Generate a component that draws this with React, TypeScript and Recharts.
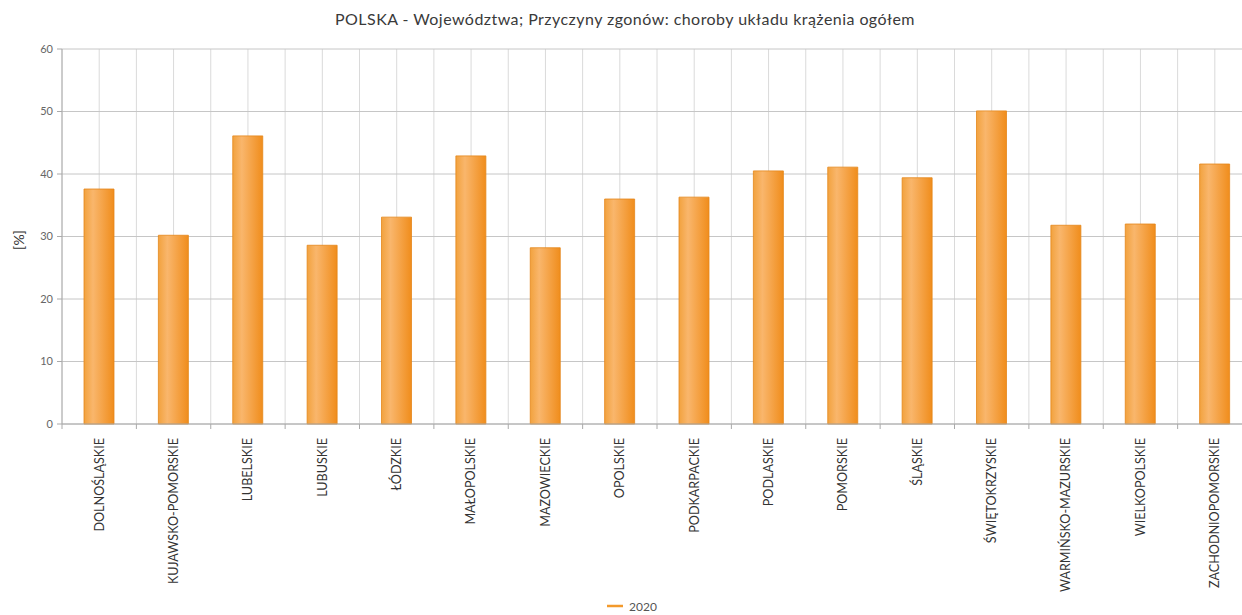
import React from "react";
import { BarChart, Bar, XAxis, YAxis, CartesianGrid, Legend } from "recharts";

const TITLE = "POLSKA - Województwa; Przyczyny zgonów: choroby układu krążenia ogółem";
const SERIES_NAME = "2020";
const Y_LABEL = "[%]";

const regions = [
  "DOLNOŚLĄSKIE",
  "KUJAWSKO-POMORSKIE",
  "LUBELSKIE",
  "LUBUSKIE",
  "ŁÓDZKIE",
  "MAŁOPOLSKIE",
  "MAZOWIECKIE",
  "OPOLSKIE",
  "PODKARPACKIE",
  "PODLASKIE",
  "POMORSKIE",
  "ŚLĄSKIE",
  "ŚWIĘTOKRZYSKIE",
  "WARMIŃSKO-MAZURSKIE",
  "WIELKOPOLSKIE",
  "ZACHODNIOPOMORSKIE",
];

const values2020 = [37.6, 30.2, 46.1, 28.6, 33.1, 42.9, 28.2, 36.0, 36.3, 40.5, 41.1, 39.4, 50.1, 31.8, 32.0, 41.6];

const yTicks = [0, 10, 20, 30, 40, 50, 60];

const data = regions.map((name, i) => ({ name, v2020: values2020[i] }));

const CHART_W = 1260;
const CHART_H = 615;
const MARGIN = { top: 49, right: 8, bottom: 0, left: 12 };
const Y_AXIS_W = 50;
const FONT = "Lato, 'Open Sans', sans-serif";

const XTick = (props: any) => {
  const { x, y, payload } = props;
  const plotW = CHART_W - MARGIN.left - MARGIN.right - Y_AXIS_W;
  const band = plotW / regions.length;
  const bx = x - band / 2;
  return (
    <g>
      <line x1={bx} y1={y - 8} x2={bx} y2={y - 3} stroke="#aaa" />
      <text
        x={x}
        y={y + 6}
        transform={`rotate(-90, ${x}, ${y + 6})`}
        textAnchor="end"
        dy="0.35em"
        fontSize={12.6}
        fontFamily={FONT}
        fill="#333"
      >
        {payload.value}
      </text>
    </g>
  );
};

const LegendContent = () => (
  <div
    style={{
      display: "flex",
      justifyContent: "center",
      alignItems: "center",
      height: 18,
      fontFamily: FONT,
      fontSize: 12,
      color: "#555",
    }}
  >
    <svg width={16} height={10} style={{ marginRight: 6 }}>
      <line x1={0} y1={5} x2={16} y2={5} stroke="#f39a2c" strokeWidth={2.5} />
    </svg>
    <span>{SERIES_NAME}</span>
  </div>
);

export default function App() {
  return (
    <div
      style={{
        position: "absolute",
        left: 0,
        top: 0,
        width: 1242,
        height: 615,
        overflow: "hidden",
        background: "#fff",
        fontFamily: FONT,
      }}
    >
      <div
        style={{
          position: "absolute",
          left: 0,
          top: 9,
          width: 1250,
          textAlign: "center",
          fontSize: 16,
          letterSpacing: 0.45,
          color: "#3a3a3a",
          fontFamily: FONT,
        }}
      >
        {TITLE}
      </div>
      <div
        style={{
          position: "absolute",
          left: 18,
          top: 240,
          transform: "translate(-50%, -50%) rotate(-90deg)",
          fontSize: 14,
          color: "#333",
          fontFamily: FONT,
          whiteSpace: "nowrap",
        }}
      >
        {Y_LABEL}
      </div>
      <BarChart
        width={CHART_W}
        height={CHART_H}
        data={data}
        margin={MARGIN}
        style={{ position: "absolute", left: 0, top: 0 }}
      >
        <defs>
          <linearGradient id="barGrad" x1="0" y1="0" x2="1" y2="0">
            <stop offset="0%" stopColor="#f2a23e" />
            <stop offset="30%" stopColor="#f9b66c" />
            <stop offset="100%" stopColor="#f08d1c" />
          </linearGradient>
        </defs>
        <CartesianGrid
          stroke="#dadada"
          vertical={true}
          horizontal={false}
          verticalCoordinatesGenerator={({ offset }: any) =>
            Array.from({ length: regions.length * 2 + 1 }, (_, i) => offset.left + (i * offset.width) / (regions.length * 2))
          }
        />
        <CartesianGrid stroke="#c6c6c6" vertical={false} horizontal={true} />
        <XAxis
          dataKey="name"
          interval={0}
          height={173}
          tick={<XTick />}
          tickLine={false}
          axisLine={{ stroke: "#aaa" }}
        />
        <YAxis
          width={Y_AXIS_W}
          domain={[0, 60]}
          ticks={yTicks}
          interval={0}
          tickSize={5}
          tickMargin={4}
          tick={{ fontSize: 11, fill: "#666", fontFamily: FONT }}
          tickLine={{ stroke: "#aaa" }}
          axisLine={{ stroke: "#aaa" }}
        />
        <Legend verticalAlign="bottom" height={18} content={<LegendContent />} />
        <Bar
          dataKey="v2020"
          name={SERIES_NAME}
          barSize={30}
          fill="url(#barGrad)"
          stroke="#e5861a"
          strokeWidth={0.8}
          isAnimationActive={false}
        />
      </BarChart>
    </div>
  );
}
